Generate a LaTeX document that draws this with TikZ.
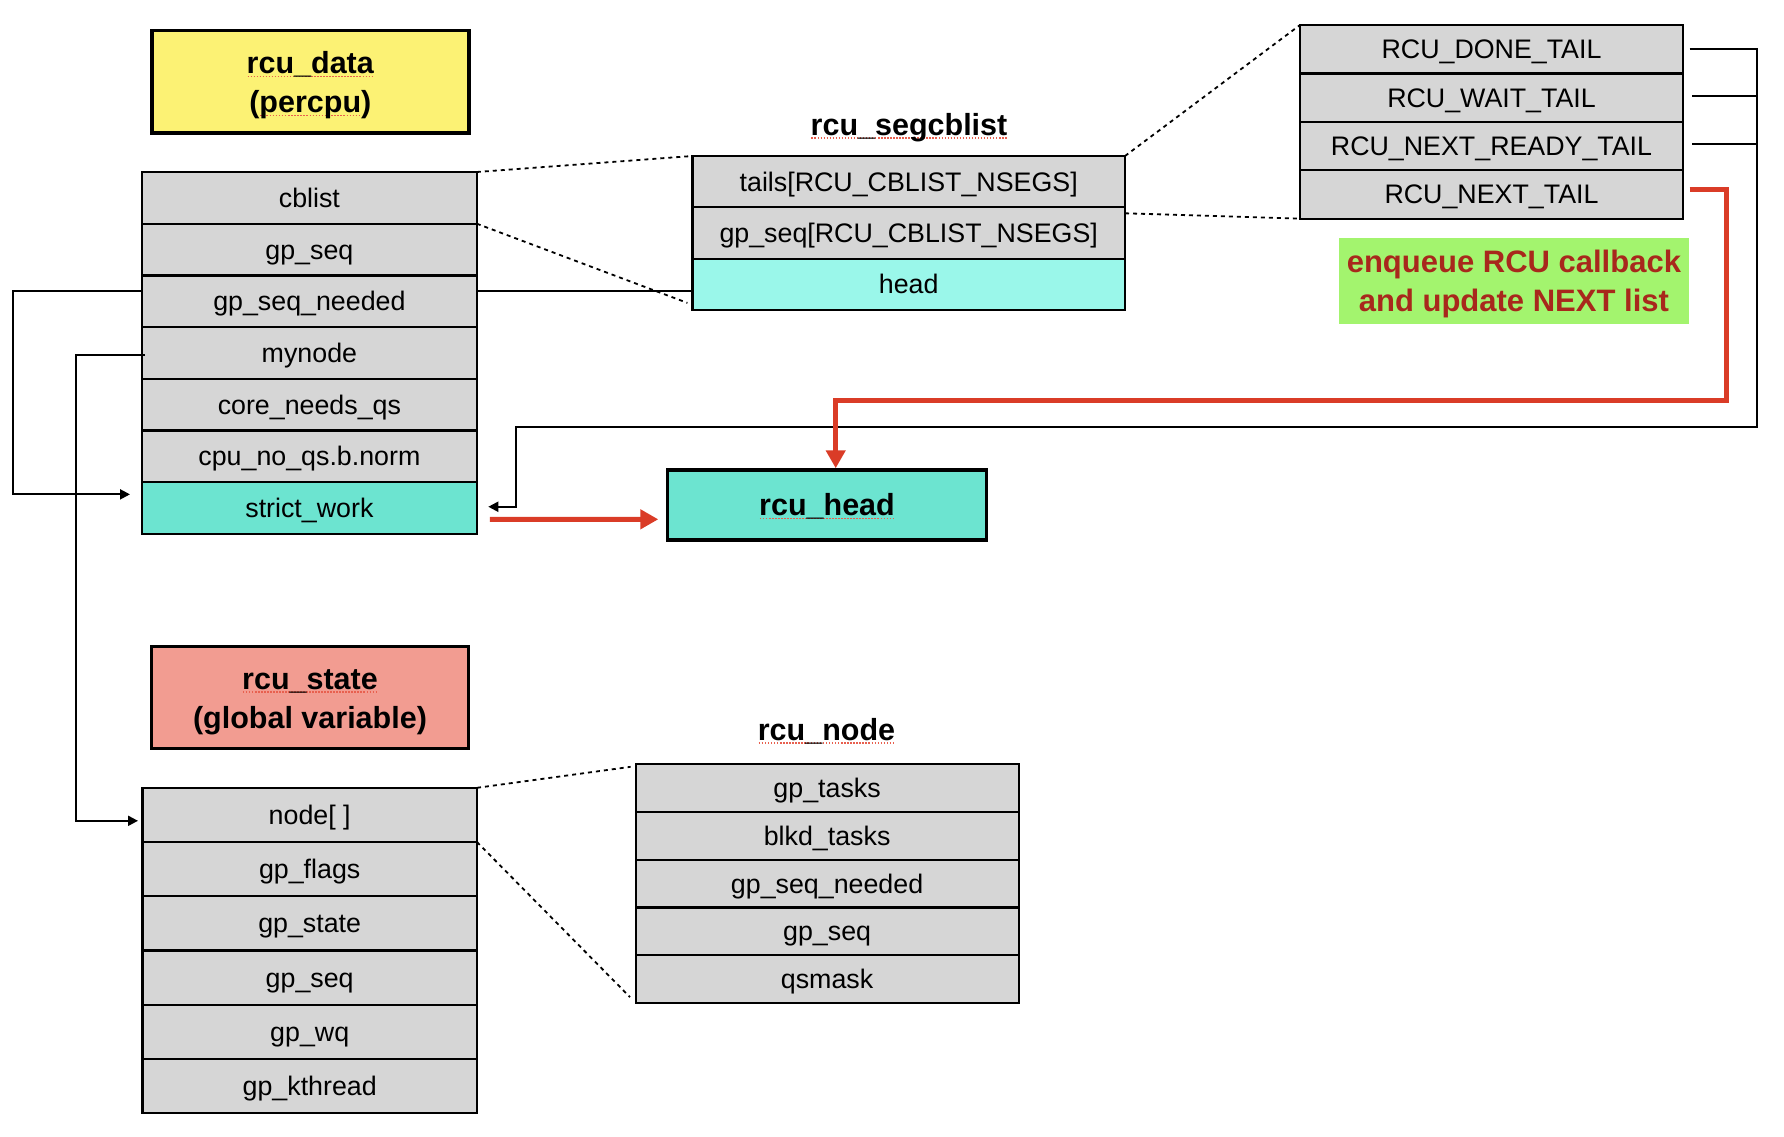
\documentclass[tikz,border=0pt]{standalone}
\usepackage{fontspec}
\setmainfont{Liberation Sans}
\usetikzlibrary{arrows.meta}
\definecolor{rowgray}{HTML}{D6D6D6}
\definecolor{turq}{HTML}{6CE4D0}
\definecolor{aqua}{HTML}{9AF7EA}
\definecolor{ylw}{HTML}{FCF274}
\definecolor{salmon}{HTML}{F29C91}
\definecolor{lgreen}{HTML}{A3F46E}
\definecolor{lblred}{HTML}{A8281C}
\definecolor{arred}{HTML}{DA3C27}
\definecolor{sqred}{HTML}{E8604F}
\newcommand\sqline[1]{\setbox0=\hbox{#1}\leavevmode\rlap{\color{sqred}\raisebox{-3.5pt}{\hbox to \wd0{\xleaders\hbox to 3pt{\hss\vrule width 1.5pt height 1.4pt depth 0pt\hss}\hfill}}}\box0}
\begin{document}
\begin{tikzpicture}[x=1pt,y=-1pt,
  cell/.style={draw=black, line width=2.2pt, fill=rowgray, inner sep=0pt, outer sep=0pt, anchor=north west, text height=19pt, text depth=0pt, font=\fontsize{26.8pt}{32pt}\selectfont},
  title/.style={draw=black, line width=3.5pt, inner sep=0pt, outer sep=0pt, anchor=north west, align=center, text height=21.8pt, text depth=0pt, font=\fontsize{30.5pt}{39pt}\selectfont\bfseries},
  header/.style={inner sep=0pt, anchor=base, font=\fontsize{30.5pt}{39pt}\selectfont\bfseries},
  conn/.style={draw=black, line width=2pt},
  tip/.style={-{Triangle[length=10pt,width=10pt]}},
  redarr/.style={draw=arred, line width=5pt, -{Triangle[length=18pt,width=19pt]}},
  dots/.style={draw=black, line width=1.8pt, dash pattern=on 4pt off 4pt},
]
\useasboundingbox (0,0) rectangle (1784,1136);

% title boxes
\node[title, text height=61.8pt, fill=ylw, minimum width=317pt, minimum height=102.5pt] (tdata) at (151.8,30.4) {\sqline{rcu\_data}\\(\sqline{percpu})};
\node[title, text height=61.8pt, fill=salmon, minimum width=317pt, minimum height=102.2pt] (tstate) at (151.5,646.3) {\sqline{rcu\_state}\\(global variable)};

% rcu_data struct
\foreach \t [count=\i] in {cblist,gp\_seq,gp\_seq\_needed,mynode,core\_needs\_qs,cpu\_no\_qs.b.norm}
  \node[cell, minimum width=334.8pt, minimum height=51.7pt] (d\i) at (142,{172+(\i-1)*51.7}) {\t};
\node[cell, fill=turq, minimum width=334.8pt, minimum height=51.7pt] (d7) at (142,{172+6*51.7}) {strict\_work};

% rcu_segcblist
\node[header] (hseg) at (909,135) {\sqline{rcu\_segcblist}};
\node[cell, minimum width=432.6pt, minimum height=51.3pt] (s1) at (692.4,156) {tails[RCU\_CBLIST\_NSEGS]};
\node[cell, minimum width=432.6pt, minimum height=51.3pt] (s2) at (692.4,207.3) {gp\_seq[RCU\_CBLIST\_NSEGS]};
\node[cell, fill=aqua, minimum width=432.6pt, minimum height=51.3pt] (s3) at (692.4,258.6) {head};

% tails
\foreach \t [count=\i] in {RCU\_DONE\_TAIL,RCU\_WAIT\_TAIL,RCU\_NEXT\_READY\_TAIL,RCU\_NEXT\_TAIL}
  \node[cell, minimum width=383pt, minimum height=48.4pt] (t\i) at (1300,{25+(\i-1)*48.4}) {\t};

% note
\node[fill=lgreen, inner sep=0pt, outer sep=0pt, anchor=north west, minimum width=350pt, minimum height=85.7pt, align=center, text=lblred, text height=61.6pt, text depth=0pt, font=\fontsize{31pt}{39.3pt}\selectfont\bfseries] (note) at (1338.9,237.9) {enqueue RCU callback\\and update NEXT list};

% rcu_head
\node[title, fill=turq, minimum width=319pt, minimum height=70pt] (rh) at (667.5,470) {\sqline{rcu\_head}};

% rcu_state struct
\foreach \t [count=\i] in {{node[ ]},gp\_flags,gp\_state,gp\_seq,gp\_wq,gp\_kthread}
  \node[cell, minimum width=334.6pt, minimum height=54.2pt] (n\i) at (142.4,{787.8+(\i-1)*54.2}) {\t};

% rcu_node
\node[header] (hnode) at (826.5,740) {\sqline{rcu\_node}};
\foreach \t [count=\i] in {gp\_tasks,blkd\_tasks,gp\_seq\_needed,gp\_seq,qsmask}
  \node[cell, minimum width=383pt, minimum height=47.7pt] (r\i) at (635.6,{764.3+(\i-1)*47.7}) {\t};

% dotted zoom lines
\draw[dots] (d1.north east) -- (s1.north west);
\draw[dots] (d1.south east) -- ([xshift=-5pt,yshift=7pt]s3.south west);
\draw[dots] (s1.north east) -- (t1.north west);
\draw[dots] ([yshift=-6pt]s1.south east) -- (t4.south west);
\draw[dots] (n1.north east) -- ([xshift=-5pt,yshift=-2.5pt]r1.north west);
\draw[dots] (n1.south east) -- ([xshift=-5.6pt,yshift=5.7pt]r5.south west);

% black connectors
\coordinate (gsn) at ([yshift=10pt]d3.east);
\draw[conn] (gsn) -- (gsn -| s3.west);
\draw[conn,tip] ([yshift=10pt]d3.west) -- ++(-129.5,0) |- ([xshift=-12pt,yshift=13.7pt]d7.west);
\draw[conn,tip] ([xshift=3pt,yshift=-1.6pt]d4.west) -- ++(-69.2,0) |- ([xshift=-4.4pt,yshift=-5.9pt]n1.west);

\coordinate (busR) at (1756.8,426.8);
\coordinate (busL) at (516,426.8);
\draw[conn,tip] ([xshift=6.5pt]t1.east) -| (busR) -- (busL) |- ([xshift=11.5pt,yshift=1.3pt]d7.east);
\coordinate (w2) at ([xshift=9pt,yshift=1.9pt]t2.east);
\draw[conn] (w2) -- (w2 -| busR);
\coordinate (w3) at ([xshift=9pt,yshift=2.4pt]t3.east);
\draw[conn] (w3) -- (w3 -| busR);

% red arrows
\coordinate (redR) at (1726.8,400);
\draw[redarr] ([xshift=6.5pt,yshift=5.1pt]t4.east) -| (redR) -| ([xshift=8.7pt,yshift=1.75pt]rh.north);
\draw[redarr] ([xshift=13pt,yshift=-11.3pt]d7.east) -- ([xshift=-9.2pt,yshift=-14.3pt]rh.west);
\end{tikzpicture}
\end{document}
